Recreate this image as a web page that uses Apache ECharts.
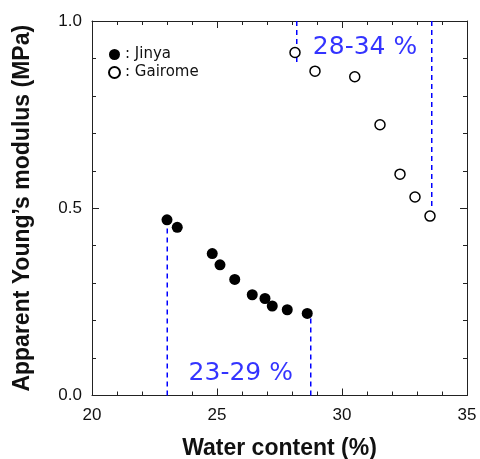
<!DOCTYPE html>
<html>
<head>
<meta charset="utf-8">
<script src="https://cdn.jsdelivr.net/npm/echarts@6/dist/echarts.min.js"></script>
<style>html,body{margin:0;padding:0;background:#fff;}#c{width:480px;height:459px;}</style>
</head>
<body>
<div id="c"></div>
<script>
// Data
const jinya = [[23.0,0.469],[23.41,0.449],[24.81,0.379],[25.12,0.349],[25.71,0.310],[26.41,0.269],[26.92,0.259],[27.21,0.239],[27.81,0.229],[28.61,0.219]];
const gairome = [[28.12,0.916],[28.92,0.866],[30.51,0.851],[31.52,0.723],[32.32,0.591],[32.92,0.530],[33.52,0.479]];
const jinyaLow = [[23.01,0],[23.01,0.463]];
const jinyaHigh = [[28.75,0],[28.75,0.222]];
const gairomeLow = [[28.19,1.0],[28.19,0.89]];
const gairomeHigh = [[33.59,1.0],[33.59,0.50]];
const labelJinya = [[25.95,0.06]];
const labelGairome = [[30.92,0.93]];
const xTicks = {min:20, max:35, interval:5};
const yTicks = {min:0, max:1, interval:0.5};

const chart = echarts.init(document.getElementById('c'), null, {renderer:'canvas'});
const axisCommon = {
  axisLine:{show:true, onZero:false, lineStyle:{color:'#222', width:1}},
  axisTick:{show:true, inside:true, length:7, lineStyle:{color:'#222'}},
  minorTick:{show:true, splitNumber:5, length:4, lineStyle:{color:'#222'}},
  splitLine:{show:false}
};
const BLUE = '#0000ff';
const dash = {color:BLUE, width:1.5, type:[5,4]};
function dashed(d){ return {type:'line', data:d, symbol:'none', lineStyle:dash, silent:true, z:1}; }
function txt(d, t){ return {type:'scatter', data:d, symbolSize:1, itemStyle:{color:'rgba(0,0,0,0)'}, silent:true,
  label:{show:true, position:'inside', formatter:t, color:BLUE, fontSize:25, fontFamily:'DejaVu Sans'}}; }

chart.setOption({
  animation:false,
  grid:{left:92, right:13, top:21, bottom:63.5, outerBoundsMode:'none', containLabel:false},
  legend:{
    orient:'vertical', left:108, top:47, padding:0, itemWidth:11, itemHeight:11, itemGap:3,
    data:['Jinya','Gairome'], formatter:': {name}',
    textStyle:{fontSize:15, fontFamily:'DejaVu Sans', color:'#111', lineHeight:15}
  },
  xAxis:[
    Object.assign({type:'value', position:'bottom', min:xTicks.min, max:xTicks.max, interval:xTicks.interval,
      axisLabel:{fontSize:17, color:'#111', fontFamily:'Liberation Sans', margin:11},
      name:'Water content (%)', nameLocation:'middle', nameGap:42,
      nameTextStyle:{fontSize:23, fontWeight:'bold', color:'#111', fontFamily:'Liberation Sans'}}, axisCommon),
    Object.assign({type:'value', position:'top', min:xTicks.min, max:xTicks.max, interval:xTicks.interval,
      axisLabel:{show:false}}, axisCommon)
  ],
  yAxis:[
    Object.assign({type:'value', position:'left', min:yTicks.min, max:yTicks.max, interval:yTicks.interval,
      axisLabel:{fontSize:17, color:'#111', fontFamily:'Liberation Sans', margin:10, formatter:v=>v.toFixed(1)},
      name:"Apparent Young’s modulus (MPa)", nameLocation:'middle', nameGap:58,
      nameTextStyle:{fontSize:23, fontWeight:'bold', color:'#111', fontFamily:'Liberation Sans'}}, axisCommon),
    Object.assign({type:'value', position:'right', min:yTicks.min, max:yTicks.max, interval:yTicks.interval,
      axisLabel:{show:false}}, axisCommon)
  ],
  series:[
    dashed(jinyaLow), dashed(jinyaHigh), dashed(gairomeLow), dashed(gairomeHigh),
    {name:'Jinya', type:'scatter', data:jinya, symbol:'circle', symbolSize:11, itemStyle:{color:'#000', opacity:1}, z:3},
    {name:'Gairome', type:'scatter', data:gairome, symbol:'circle', symbolSize:10,
      itemStyle:{color:'#fff', borderColor:'#000', borderWidth:1.5, opacity:1}, z:3},
    txt(labelJinya, '23-29 %'), txt(labelGairome, '28-34 %')
  ]
});
</script>
</body>
</html>
